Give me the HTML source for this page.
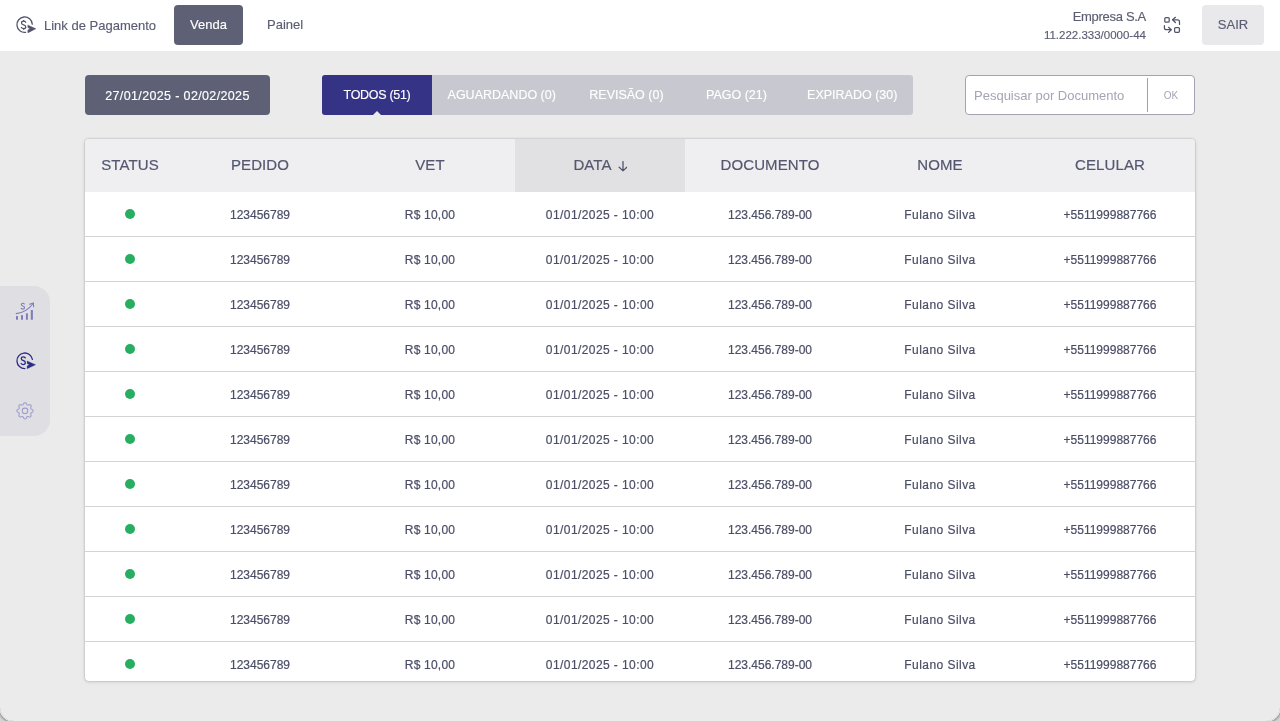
<!DOCTYPE html>
<html><head><meta charset="utf-8">
<style>
*{box-sizing:border-box;margin:0;padding:0}
html,body{width:1280px;height:721px;overflow:hidden;background:#d4d4d4;font-family:"Liberation Sans",Arial,sans-serif;color:#50546b}
.app{position:absolute;left:0;top:0;width:1280px;height:721px;background:#ebebeb;overflow:hidden}
.frame{position:absolute;left:0;top:-30px;width:1280px;height:750.5px;border-radius:14px;box-shadow:0 0 0 0.8px #f6f6f6,0 0 2px 1.5px rgba(0,0,0,.3),0 0 0 60px #d6d6d6;pointer-events:none}
.hdr{position:absolute;left:0;top:0;width:1280px;height:51px;background:#fff}
.abs{position:absolute;white-space:nowrap}
.btn{position:absolute;border-radius:4px}
.tabs{position:absolute;left:322px;top:75px;width:591px;height:40px;background:#c8c8d0;border-radius:3px;display:flex}
.tab{height:40px;min-width:110px;padding:0 16px;display:flex;align-items:center;justify-content:center;color:#fff;font-size:12.5px;white-space:nowrap;padding-top:0px;-webkit-text-stroke:0.15px #fff}
.tab.on{background:#353385;border-radius:3px 0 0 3px;position:relative;letter-spacing:-0.3px}
.tab.on:after{content:"";position:absolute;left:50%;bottom:0;margin-left:-4.3px;border-left:4.3px solid transparent;border-right:4.3px solid transparent;border-bottom:4.6px solid #ebebeb}
.tbl{position:absolute;left:85px;top:139px;width:1110px;height:542px;background:#fff;border-radius:4px;box-shadow:0 0 2px rgba(0,0,0,.3),0 1px 4px rgba(0,0,0,.1);overflow:hidden}
.th{position:absolute;left:0;top:0;width:1110px;height:53px;background:#efeff1}
.th div{position:absolute;top:0;width:170px;height:53px;line-height:52px;padding-top:0px;text-align:center;font-size:15px;letter-spacing:0.1px;color:#54576f;-webkit-text-stroke:0.2px #54576f}
.row{position:absolute;left:0;width:1110px;height:45px;border-bottom:1px solid #d4d4d4}
.c{position:absolute;top:0;width:170px;height:44px;line-height:44px;padding-top:1px;text-align:center;font-size:12px;color:#4b4e66;-webkit-text-stroke:0.2px #4b4e66}
.c2{letter-spacing:0.2px}.c3{letter-spacing:0.42px}.c5{letter-spacing:0.45px}
.dot{position:absolute;left:40px;top:17px;width:10px;height:10px;border-radius:50%;background:#27ae60}
.side{position:absolute;left:0;top:286px;width:50px;height:150px;background:#dfdfe3;border-radius:0 16px 16px 0}
.ht{font-size:13px;line-height:18px;color:#5a5d73;-webkit-text-stroke:0.15px #5a5d73}
</style></head><body>
<div class="app">
<div class="hdr">
  <svg class="abs" style="left:12px;top:12px" width="28" height="26" viewBox="0 0 28 26"><path d="M20.3 12.2 A7.7 7.7 0 1 0 13.6 20.3" fill="none" stroke="#50536a" stroke-width="1.3" stroke-linecap="round"/><path d="M13.7 10.3 Q13.1 9.2 11.6 9.2 Q9.5 9.2 9.5 11 Q9.5 12.5 11.6 12.8 Q13.8 13.2 13.8 14.9 Q13.8 16.6 11.6 16.6 Q10 16.6 9.4 15.5" fill="none" stroke="#50536a" stroke-width="1.2349999999999999" stroke-linecap="round"/><path d="M11.6 8.1 V9.3 M11.6 16.5 V17.7" fill="none" stroke="#50536a" stroke-width="1.2"/><path d="M15.8 12.9 L24 16.8 L15.8 20.9 L15.8 18 L17.9 16.8 L15.8 15.6 Z" fill="#50536a" stroke="#50536a" stroke-width="0.3" stroke-linejoin="round"/></svg>
  <div class="abs ht" style="left:44px;top:17px">Link de Pagamento</div>
  <div class="btn" style="left:174px;top:5px;width:69px;height:40px;background:#5e6175"></div>
  <div class="abs" style="left:174px;top:5px;width:69px;height:40px;line-height:40px;text-align:center;font-size:13px;color:#fff;-webkit-text-stroke:0.15px #fff">Venda</div>
  <div class="abs ht" style="left:267px;top:16px">Painel</div>
  <div class="abs ht" style="right:134px;top:8px;text-align:right;letter-spacing:-0.3px">Empresa S.A</div>
  <div class="abs" style="right:134px;top:27px;font-size:11.5px;line-height:16px;color:#5a5d73;text-align:right;-webkit-text-stroke:0.15px #5a5d73">11.222.333/0000-44</div>
  <svg class="abs" style="left:1160px;top:12px" width="24" height="26" viewBox="0 0 24 26"><g fill="none" stroke="#50536a" stroke-width="1.25" stroke-linecap="round" stroke-linejoin="round"><rect x="4.8" y="5.6" width="4.4" height="4.6" rx="1"/><rect x="14.6" y="15.6" width="4.8" height="4.7" rx="1"/><path d="M12.6 7.8 H17.6 Q19.5 7.8 19.5 9.7 V12.4"/><path d="M15.4 5.3 L12.6 7.8 L15.4 10.5"/><path d="M4.4 13.5 V15.7 Q4.4 17.7 6.4 17.7 H11.2"/><path d="M8.6 15.3 L11.2 17.7 L8.6 20.4"/></g></svg>
  <div class="btn" style="left:1202px;top:5px;width:62px;height:40px;background:#e9e9ec"></div>
  <div class="abs ht" style="left:1202px;top:5px;width:62px;height:39px;line-height:39px;text-align:center">SAIR</div>
</div>
<div class="btn" style="left:85px;top:75px;width:185px;height:40px;background:#5e6175;border-radius:4px"></div>
<div class="abs" style="left:85px;top:76px;width:185px;height:40px;line-height:40px;text-align:center;font-size:12.5px;letter-spacing:0.36px;color:#fff;-webkit-text-stroke:0.15px #fff">27/01/2025 - 02/02/2025</div>
<div class="tabs">
  <div class="tab on">TODOS (51)</div>
  <div class="tab">AGUARDANDO (0)</div>
  <div class="tab">REVISÃO (0)</div>
  <div class="tab">PAGO (21)</div>
  <div class="tab">EXPIRADO (30)</div>
</div>
<div class="btn" style="left:965px;top:75px;width:230px;height:40px;background:#fff;border:1px solid #a1a3b2"></div>
<div class="abs" style="left:1147px;top:78px;width:1px;height:34px;background:#9fa1b0"></div>
<div class="abs" style="left:974px;top:87px;font-size:13px;line-height:18px;color:#a3a5b5">Pesquisar por Documento</div>
<div class="abs" style="left:1148px;top:86px;width:46px;text-align:center;font-size:10px;line-height:18px;padding-top:0.5px;color:#a3a5b5">OK</div>
<div class="tbl">
  <div class="th">
    <div style="left:0;width:90px">STATUS</div>
    <div style="left:90px">PEDIDO</div>
    <div style="left:260px">VET</div>
    <div style="left:430px;background:#e1e1e4">DATA<svg width="15" height="11" viewBox="0 0 15 11" style="margin-left:0px;vertical-align:-2px"><path d="M11 0.6 V9.8 M7.2 6.3 L11 9.9 L14.8 6.3" fill="none" stroke="#51546c" stroke-width="1.3" stroke-linecap="round" stroke-linejoin="round"/></svg></div>
    <div style="left:600px">DOCUMENTO</div>
    <div style="left:770px">NOME</div>
    <div style="left:940px">CELULAR</div>
  </div>
<div class="row" style="top:53px"><span class="dot"></span><div class="c" style="left:90px">123456789</div><div class="c c2" style="left:260px">R$ 10,00</div><div class="c c3" style="left:430px">01/01/2025 - 10:00</div><div class="c" style="left:600px">123.456.789-00</div><div class="c c5" style="left:770px">Fulano Silva</div><div class="c" style="left:940px">+5511999887766</div></div>
<div class="row" style="top:98px"><span class="dot"></span><div class="c" style="left:90px">123456789</div><div class="c c2" style="left:260px">R$ 10,00</div><div class="c c3" style="left:430px">01/01/2025 - 10:00</div><div class="c" style="left:600px">123.456.789-00</div><div class="c c5" style="left:770px">Fulano Silva</div><div class="c" style="left:940px">+5511999887766</div></div>
<div class="row" style="top:143px"><span class="dot"></span><div class="c" style="left:90px">123456789</div><div class="c c2" style="left:260px">R$ 10,00</div><div class="c c3" style="left:430px">01/01/2025 - 10:00</div><div class="c" style="left:600px">123.456.789-00</div><div class="c c5" style="left:770px">Fulano Silva</div><div class="c" style="left:940px">+5511999887766</div></div>
<div class="row" style="top:188px"><span class="dot"></span><div class="c" style="left:90px">123456789</div><div class="c c2" style="left:260px">R$ 10,00</div><div class="c c3" style="left:430px">01/01/2025 - 10:00</div><div class="c" style="left:600px">123.456.789-00</div><div class="c c5" style="left:770px">Fulano Silva</div><div class="c" style="left:940px">+5511999887766</div></div>
<div class="row" style="top:233px"><span class="dot"></span><div class="c" style="left:90px">123456789</div><div class="c c2" style="left:260px">R$ 10,00</div><div class="c c3" style="left:430px">01/01/2025 - 10:00</div><div class="c" style="left:600px">123.456.789-00</div><div class="c c5" style="left:770px">Fulano Silva</div><div class="c" style="left:940px">+5511999887766</div></div>
<div class="row" style="top:278px"><span class="dot"></span><div class="c" style="left:90px">123456789</div><div class="c c2" style="left:260px">R$ 10,00</div><div class="c c3" style="left:430px">01/01/2025 - 10:00</div><div class="c" style="left:600px">123.456.789-00</div><div class="c c5" style="left:770px">Fulano Silva</div><div class="c" style="left:940px">+5511999887766</div></div>
<div class="row" style="top:323px"><span class="dot"></span><div class="c" style="left:90px">123456789</div><div class="c c2" style="left:260px">R$ 10,00</div><div class="c c3" style="left:430px">01/01/2025 - 10:00</div><div class="c" style="left:600px">123.456.789-00</div><div class="c c5" style="left:770px">Fulano Silva</div><div class="c" style="left:940px">+5511999887766</div></div>
<div class="row" style="top:368px"><span class="dot"></span><div class="c" style="left:90px">123456789</div><div class="c c2" style="left:260px">R$ 10,00</div><div class="c c3" style="left:430px">01/01/2025 - 10:00</div><div class="c" style="left:600px">123.456.789-00</div><div class="c c5" style="left:770px">Fulano Silva</div><div class="c" style="left:940px">+5511999887766</div></div>
<div class="row" style="top:413px"><span class="dot"></span><div class="c" style="left:90px">123456789</div><div class="c c2" style="left:260px">R$ 10,00</div><div class="c c3" style="left:430px">01/01/2025 - 10:00</div><div class="c" style="left:600px">123.456.789-00</div><div class="c c5" style="left:770px">Fulano Silva</div><div class="c" style="left:940px">+5511999887766</div></div>
<div class="row" style="top:458px"><span class="dot"></span><div class="c" style="left:90px">123456789</div><div class="c c2" style="left:260px">R$ 10,00</div><div class="c c3" style="left:430px">01/01/2025 - 10:00</div><div class="c" style="left:600px">123.456.789-00</div><div class="c c5" style="left:770px">Fulano Silva</div><div class="c" style="left:940px">+5511999887766</div></div>
<div class="row" style="top:503px"><span class="dot"></span><div class="c" style="left:90px">123456789</div><div class="c c2" style="left:260px">R$ 10,00</div><div class="c c3" style="left:430px">01/01/2025 - 10:00</div><div class="c" style="left:600px">123.456.789-00</div><div class="c c5" style="left:770px">Fulano Silva</div><div class="c" style="left:940px">+5511999887766</div></div>
</div>
<div class="side">
  <svg class="abs" style="left:12px;top:12px" width="26" height="26" viewBox="0 0 26 26"><g fill="#7f7dbc"><rect x="4" y="18" width="2" height="3.8" rx="0.3"/><rect x="9" y="17.1" width="2" height="4.7" rx="0.3"/><rect x="13.9" y="15.2" width="2" height="6.6" rx="0.3"/><rect x="18.8" y="11.9" width="2.1" height="9.9" rx="0.3"/></g><g fill="none" stroke="#7f7dbc" stroke-width="1.1" stroke-linecap="round" stroke-linejoin="round"><path d="M4.2 15.6 Q14.5 14.5 21.3 5.2"/><path d="M17.5 6.2 L21.4 5 L21.6 8.8"/><path d="M12.3 6.1 Q11.9 5.3 10.8 5.3 Q9.3 5.3 9.3 6.6 Q9.3 7.7 10.8 8 Q12.5 8.3 12.5 9.7 Q12.5 11.1 10.8 11.1 Q9.5 11.1 9.1 10.3"/></g></svg>
  <svg class="abs" style="left:12px;top:62px" width="28" height="26" viewBox="0 0 28 26"><path d="M20.4 11.4 A7.8 7.8 0 1 0 12.9 20.6" fill="none" stroke="#2c2b86" stroke-width="1.3" stroke-linecap="round"/><path d="M13.3 9.9 Q12.6 8.9 11.2 8.9 Q9.3 8.9 9.3 10.7 Q9.3 12.1 11.2 12.5 Q13.3 12.9 13.3 14.6 Q13.3 16.6 11.2 16.6 Q9.7 16.6 9.1 15.5" fill="none" stroke="#2c2b86" stroke-width="1.3" stroke-linecap="round"/><path d="M15.1 12.9 L23.6 16.8 L15.1 20.8 L15.1 18 L17.3 16.8 L15.1 15.6 Z" fill="#2c2b86" stroke="#2c2b86" stroke-width="0.3" stroke-linejoin="round"/></svg>
  <svg class="abs" style="left:12px;top:112px" width="26" height="26" viewBox="0 0 26 26"><path d="M21.10 12.80 L21.07 13.12 L20.98 13.43 L20.79 13.72 L20.47 13.98 L20.06 14.20 L19.64 14.39 L19.31 14.58 L19.09 14.78 L18.93 14.99 L18.82 15.21 L18.74 15.45 L18.70 15.71 L18.72 16.01 L18.83 16.37 L18.99 16.80 L19.12 17.25 L19.16 17.65 L19.08 18.00 L18.93 18.28 L18.73 18.53 L18.48 18.73 L18.20 18.88 L17.85 18.96 L17.45 18.92 L17.00 18.79 L16.57 18.63 L16.21 18.52 L15.91 18.50 L15.65 18.54 L15.41 18.62 L15.19 18.73 L14.98 18.89 L14.78 19.11 L14.59 19.44 L14.40 19.86 L14.18 20.27 L13.92 20.59 L13.63 20.78 L13.32 20.87 L13.00 20.90 L12.68 20.87 L12.37 20.78 L12.08 20.59 L11.82 20.27 L11.60 19.86 L11.41 19.44 L11.22 19.11 L11.02 18.89 L10.81 18.73 L10.59 18.62 L10.35 18.54 L10.09 18.50 L9.79 18.52 L9.43 18.63 L9.00 18.79 L8.55 18.92 L8.15 18.96 L7.80 18.88 L7.52 18.73 L7.27 18.53 L7.07 18.28 L6.92 18.00 L6.84 17.65 L6.88 17.25 L7.01 16.80 L7.17 16.37 L7.28 16.01 L7.30 15.71 L7.26 15.45 L7.18 15.21 L7.07 14.99 L6.91 14.78 L6.69 14.58 L6.36 14.39 L5.94 14.20 L5.53 13.98 L5.21 13.72 L5.02 13.43 L4.93 13.12 L4.90 12.80 L4.93 12.48 L5.02 12.17 L5.21 11.88 L5.53 11.62 L5.94 11.40 L6.36 11.21 L6.69 11.02 L6.91 10.82 L7.07 10.61 L7.18 10.39 L7.26 10.15 L7.30 9.89 L7.28 9.59 L7.17 9.23 L7.01 8.80 L6.88 8.35 L6.84 7.95 L6.92 7.60 L7.07 7.32 L7.27 7.07 L7.52 6.87 L7.80 6.72 L8.15 6.64 L8.55 6.68 L9.00 6.81 L9.43 6.97 L9.79 7.08 L10.09 7.10 L10.35 7.06 L10.59 6.98 L10.81 6.87 L11.02 6.71 L11.22 6.49 L11.41 6.16 L11.60 5.74 L11.82 5.33 L12.08 5.01 L12.37 4.82 L12.68 4.73 L13.00 4.70 L13.32 4.73 L13.63 4.82 L13.92 5.01 L14.18 5.33 L14.40 5.74 L14.59 6.16 L14.78 6.49 L14.98 6.71 L15.19 6.87 L15.41 6.98 L15.65 7.06 L15.91 7.10 L16.21 7.08 L16.57 6.97 L17.00 6.81 L17.45 6.68 L17.85 6.64 L18.20 6.72 L18.48 6.87 L18.73 7.07 L18.93 7.32 L19.08 7.60 L19.16 7.95 L19.12 8.35 L18.99 8.80 L18.83 9.23 L18.72 9.59 L18.70 9.89 L18.74 10.15 L18.82 10.39 L18.93 10.61 L19.09 10.82 L19.31 11.02 L19.64 11.21 L20.06 11.40 L20.47 11.62 L20.79 11.88 L20.98 12.17 L21.07 12.48 L21.10 12.80Z" fill="none" stroke="#9d9cce" stroke-width="1.05" stroke-linejoin="round"/><rect x="10.3" y="10.1" width="5.4" height="5.4" rx="2.3" fill="none" stroke="#9d9cce" stroke-width="1.05"/></svg>
</div>
<div class="frame"></div>
</div>
</body></html>
